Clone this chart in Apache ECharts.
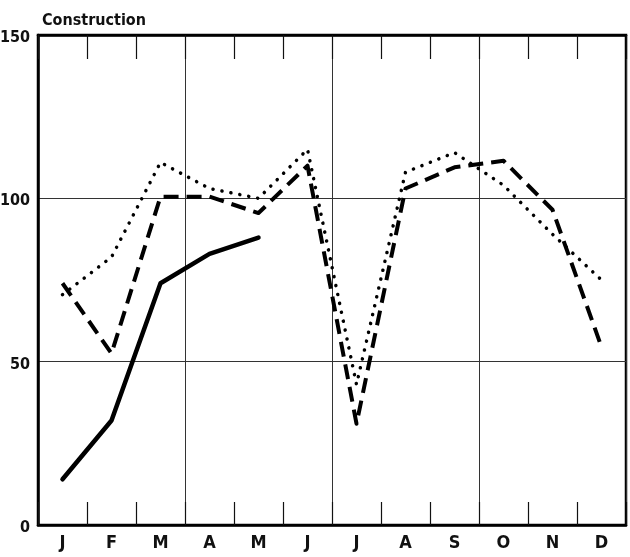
<!DOCTYPE html>
<html>
<head>
<meta charset="utf-8">
<script src="https://cdn.jsdelivr.net/npm/echarts@6/dist/echarts.min.js"></script>
<style>
  html, body { margin: 0; padding: 0; background: #fff; }
  #chart { width: 630px; height: 557px; }
</style>
</head>
<body>
<div id="chart"></div>
<script>
// month labels
var months = ['J', 'F', 'M', 'A', 'M', 'J', 'J', 'A', 'S', 'O', 'N', 'D'];
var yTicks = [0, 50, 100, 150];
// solid line (Jan - May only)
var solidVals = [14, 32, 74, 83, 88, null, null, null, null, null, null, null];
// dashed line
var dashedVals = [74, 52.5, 100.5, 100.5, 95.5, 110, 31, 103, 109.5, 111.5, 96.5, 54.5];
// dotted line
var dottedVals = [70.5, 82, 111, 103, 100, 115, 43, 108, 114, 104, 89, 75];

var font = '"Liberation Sans Narrow", "DejaVu Sans Condensed", sans-serif';

var chart = echarts.init(document.getElementById('chart'));

chart.setOption({
  animation: false,
  backgroundColor: '#fff',
  title: {
    text: 'Construction',
    left: 37,
    top: 8,
    textStyle: { fontFamily: font, fontSize: 16, fontWeight: 'bold', color: '#111' }
  },
  grid: {
    left: 38, right: 4, top: 35, bottom: 32,
    outerBoundsMode: 'none',
    containLabel: false,
    show: true, borderColor: '#000', borderWidth: 2.5
  },
  xAxis: [{
    type: 'category',
    data: months,
    position: 'bottom',
    boundaryGap: true,
    axisLine: { lineStyle: { color: '#000', width: 2.5 } },
    axisTick: { show: true, inside: true, length: 23, interval: 0, lineStyle: { color: '#111', width: 1.2 } },
    axisLabel: { interval: 0, margin: 9, fontFamily: font, fontSize: 18, fontWeight: 'bold', color: '#111' },
    splitLine: {
      show: true,
      interval: function (i) { return i > 0 && i % 3 === 0; },
      lineStyle: { color: '#333', width: 1 }
    }
  }, {
    type: 'category',
    data: months,
    position: 'top',
    boundaryGap: true,
    axisLine: { lineStyle: { color: '#000', width: 2.5 } },
    axisTick: { show: true, inside: true, length: 24, interval: 0, lineStyle: { color: '#111', width: 1.2 } },
    axisLabel: { show: false },
    splitLine: { show: false }
  }],
  yAxis: {
    type: 'value',
    min: yTicks[0],
    max: yTicks[yTicks.length - 1],
    interval: 50,
    axisLine: { show: true, lineStyle: { color: '#000', width: 2.5 } },
    axisTick: { show: false },
    axisLabel: {
      margin: 8, fontFamily: font, fontSize: 16, fontWeight: 'bold', color: '#111',
      verticalAlign: 'top', padding: [-5, 0, 0, 0]
    },
    splitLine: { show: true, lineStyle: { color: '#333', width: 1 } }
  },
  series: [{
    name: 'solid',
    type: 'line',
    data: solidVals,
    symbol: 'none',
    connectNulls: false,
    lineStyle: { color: '#000', width: 4.5, cap: 'round', join: 'round' },
    z: 5
  }, {
    name: 'dashed',
    type: 'line',
    data: dashedVals,
    symbol: 'none',
    lineStyle: { color: '#000', width: 4, type: [15, 8], cap: 'butt', join: 'round' },
    z: 4
  }, {
    name: 'dotted',
    type: 'line',
    data: dottedVals,
    symbol: 'none',
    lineStyle: { color: '#000', width: 3.5, type: [0.1, 9], cap: 'round', join: 'round' },
    z: 3
  }]
});
</script>
</body>
</html>
